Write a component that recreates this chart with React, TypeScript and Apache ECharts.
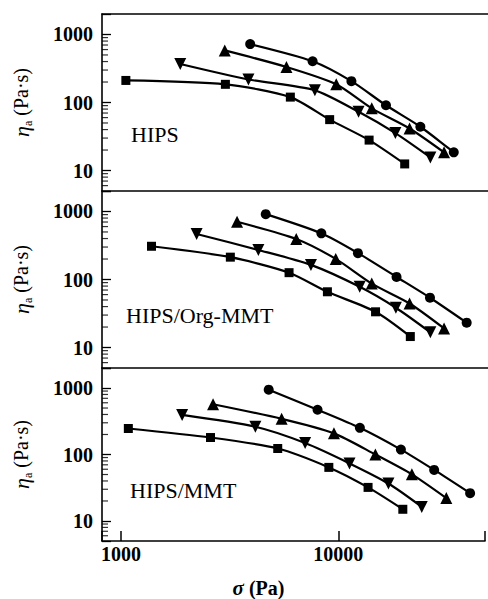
import React, { useEffect, useRef } from "react";
import * as echarts from "echarts";

// ---- data (σ in Pa, η_a in Pa·s) ----
const hipsSquare = [[1050, 211], [2990, 185], [5920, 120], [8950, 56], [13550, 28], [19700, 12.5]];
const hipsDown = [[1860, 368], [3810, 218], [7660, 151], [12130, 73], [17860, 35.5], [25800, 15.6]];
const hipsUp = [[2970, 583], [5680, 333], [9590, 185], [13930, 82], [20740, 41.5], [29800, 18.5]];
const hipsCircle = [[3880, 722], [7480, 404], [11250, 206], [16180, 91], [23230, 44], [33000, 18.5]];

const orgSquare = [[1375, 308], [3150, 213], [5840, 126], [8740, 66], [14500, 33.5], [20900, 14.5]];
const orgDown = [[2210, 467], [4230, 272], [7350, 164], [12270, 78], [17950, 38.4], [25800, 16.7]];
const orgUp = [[3380, 705], [6300, 395], [9540, 201], [13930, 87], [20740, 44.4], [29800, 19.1]];
const orgCircle = [[4570, 914], [8200, 477], [12050, 244], [18080, 109], [25700, 54], [37800, 23.2]];

const mmtSquare = [[1080, 246], [2580, 180], [5260, 123], [9040, 64], [13700, 32], [19800, 15]];
const mmtDown = [[1910, 394], [4150, 261], [7030, 148.5], [11250, 73.5], [17000, 36.6], [24200, 16.3]];
const mmtUp = [[2650, 570], [5480, 344], [9540, 208], [14800, 100], [21800, 50.3], [31400, 22.1]];
const mmtCircle = [[4780, 944], [8020, 471], [12560, 252], [19400, 118.5], [27600, 58.6], [40400, 26.2]];

const panelNames = ["HIPS", "HIPS/Org-MMT", "HIPS/MMT"];
const panelData = [
  [hipsSquare, hipsDown, hipsUp, hipsCircle],
  [orgSquare, orgDown, orgUp, orgCircle],
  [mmtSquare, mmtDown, mmtUp, mmtCircle],
];

const xMin = 817;
const xMax = 47300;
const yMin = 5;
const yMax = 2000;
const xTickLabels = [1000, 10000];
const yTickLabels = [10, 100, 1000];
const yMinorTicks = [6, 7, 8, 9, 20, 30, 40, 50, 60, 70, 80, 90, 200, 300, 400, 500, 600, 700, 800, 900];

const FONT = '"Liberation Serif", "Times New Roman", serif';

const symbols = [
  { symbol: "rect", size: 9, rotate: 0 },
  { symbol: "triangle", size: 12, rotate: 180 },
  { symbol: "triangle", size: 12, rotate: 0 },
  { symbol: "circle", size: 10, rotate: 0 },
];

function isShown(v: number, list: number[]) {
  return list.some((t) => Math.abs(v - t) / t < 1e-6);
}

export default function App() {
  const ref = useRef<HTMLDivElement>(null);
  useEffect(() => {
    document.body.style.margin = "0";
    if (!ref.current) return;
    const chart = echarts.init(ref.current, null, { renderer: "svg" });
    const tops = [14, 191, 368];
    const H = 177;
    const grid = tops.map((t) => ({ left: 97, top: t, right: 0, height: H }));
    const xAxis: any[] = tops.map((_, i) => ({
      type: "log",
      logBase: 10,
      gridIndex: i,
      min: xMin,
      max: xMax,
      position: "bottom",
      splitLine: { show: false },
      axisLine: { show: true, lineStyle: { color: "#000", width: 1.6 } },
      axisTick: {
        show: i === 2,
        inside: true,
        length: 10,
        lineStyle: { color: "#000", width: 1.5 },
      },
      axisLabel: {
        show: i === 2,
        margin: 3,
        color: "#000",
        fontFamily: FONT,
        fontSize: 20,
        fontWeight: "bold",
        formatter: (v: number) => (isShown(v, xTickLabels) ? String(Math.round(v)) : ""),
      },
      name: i === 2 ? "{i|σ} (Pa)" : "",
      nameLocation: "middle",
      nameGap: 36,
      nameTextStyle: {
        color: "#000",
        fontFamily: FONT,
        fontSize: 20,
        fontWeight: "bold",
        padding: [0, 70, 0, 0],
        rich: {
          i: { fontFamily: FONT, fontSize: 21, fontStyle: "italic", fontWeight: "bold", color: "#000" },
        },
      },
    }));
    // top frame line of the first panel
    xAxis.push({
      type: "log",
      logBase: 10,
      gridIndex: 0,
      min: xMin,
      max: xMax,
      position: "top",
      splitLine: { show: false },
      axisLine: { show: true, lineStyle: { color: "#000", width: 1.6 } },
      axisTick: { show: false },
      axisLabel: { show: false },
    });
    const yAxis = tops.map((_, i) => ({
      type: "log",
      logBase: 10,
      gridIndex: i,
      min: yMin,
      max: yMax,
      splitLine: { show: false },
      axisLine: { show: true, lineStyle: { color: "#000", width: 1.6 } },
      axisTick: { show: true, inside: true, length: 9, lineStyle: { color: "#000", width: 1.3 } },
      axisLabel: {
        margin: 9,
        color: "#000",
        fontFamily: FONT,
        fontSize: 20,
        fontWeight: "bold",
        formatter: (v: number) => (isShown(v, yTickLabels) ? String(Math.round(v)) : ""),
      },
      name: "{i|η}{sub|a} (Pa·s)",
      nameLocation: "middle",
      nameRotate: 90,
      nameGap: 68,
      nameTextStyle: {
        color: "#000",
        fontFamily: FONT,
        fontSize: 20,
        lineHeight: 26,
        rich: {
          i: { fontFamily: FONT, fontSize: 22, fontStyle: "italic", color: "#000", lineHeight: 26 },
          sub: { fontFamily: FONT, fontSize: 12, color: "#000", verticalAlign: "bottom", lineHeight: 14 },
        },
      },
    }));
    const series: any[] = [];
    panelData.forEach((sets, p) => {
      sets.forEach((d, s) => {
        series.push({
          type: "line",
          xAxisIndex: p,
          yAxisIndex: p,
          data: d,
          smooth: 0.25,
          symbol: symbols[s].symbol,
          symbolSize: symbols[s].size,
          symbolRotate: symbols[s].rotate,
          showSymbol: true,
          lineStyle: { color: "#000", width: 2.2 },
          itemStyle: { color: "#000" },
          z: 3,
        });
      });
      series.push({
        type: "scatter",
        xAxisIndex: p,
        yAxisIndex: p,
        silent: true,
        data: yMinorTicks.map((v) => [xMin, v]),
        symbol: "rect",
        symbolSize: [6, 1.2],
        symbolOffset: [3, 0],
        itemStyle: { color: "#000" },
        z: 2,
      });
    });
    const labelPos = [
      { x: 131, y: 135 },
      { x: 126, y: 316 },
      { x: 130, y: 491 },
    ];
    chart.setOption({
      animation: false,
      backgroundColor: "#fff",
      grid,
      xAxis,
      yAxis,
      series,
      graphic: panelNames.map((n, i) => ({
        type: "text",
        left: labelPos[i].x,
        top: labelPos[i].y - 12,
        style: { text: n, fill: "#000", font: `22px ${FONT}` },
      })),
    });
    return () => chart.dispose();
  }, []);
  return <div ref={ref} style={{ width: 488, height: 599 }} />;
}
